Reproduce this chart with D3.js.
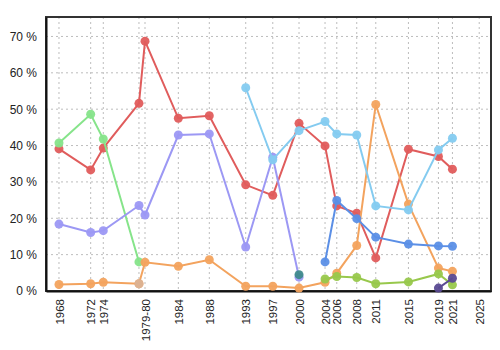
<!DOCTYPE html>
<html>
<head>
<meta charset="utf-8">
<script src="https://cdn.jsdelivr.net/npm/d3@7"></script>
<style>
  body { margin: 0; background: #fff; }
  text { font-family: "Liberation Sans", Arial, sans-serif; fill: #222; }
</style>
</head>
<body>
<div id="chart"></div>
<script>
// election dates as decimal years
const dates = [1968.0, 1972.3, 1974.01, 1978.85, 1979.67, 1984.19, 1988.39, 1993.33, 1997.0,
    2000.56, 2004.09, 2005.68, 2008.39, 2010.97, 2015.4, 2019.47, 2021.37];
const tickDates = dates.concat([2025.0]);
const tickLabels = ["1968", "1972", "1974", "", "1979-80", "1984", "1988", "1993", "1997",
    "2000", "2004", "2006", "2008", "2011", "2015", "2019", "2021", "2025"];
const yTicks = [0, 10, 20, 30, 40, 50, 60, 70];

// values per date index (null = no value)
const red =        [39.1, 33.3, 39.3, 51.6, 68.7, 47.5, 48.2, 29.2, 26.3, 46.1, 39.9, 23.4, 21.4, 9.1, 39.0, 37.0, 33.5];
const green =      [40.7, 48.6, 41.8, 8.0, null, null, null, null, null, null, null, null, null, null, null, null, null];
const purple =     [18.4, 16.1, 16.6, 23.5, 20.9, 42.9, 43.2, 12.1, 36.8, 3.8, null, null, null, null, null, null, null];
const orange =     [1.8, 2.0, 2.4, 2.0, 7.9, 6.8, 8.6, 1.3, 1.3, 0.8, 2.4, 4.9, 12.5, 51.3, 23.9, 6.3, 5.4];
const lightBlue =  [null, null, null, null, null, null, null, 55.9, 36.1, 44.1, 46.6, 43.2, 42.9, 23.4, 22.3, 38.8, 42.0];
const blue =       [null, null, null, null, null, null, null, null, null, null, 8.0, 24.9, 19.9, 14.8, 12.9, 12.4, 12.3];
const yellowGreen = [null, null, null, null, null, null, null, null, null, null, 3.3, 4.0, 3.7, 2.0, 2.5, 4.7, 1.7];
const darkPurple = [null, null, null, null, null, null, null, null, null, null, null, null, null, null, null, 0.8, 3.5];
const teal =       [null, null, null, null, null, null, null, null, null, 4.5, null, null, null, null, null, null, null];
const tan =        [null, null, null, 2.0, null, null, null, null, null, null, null, null, null, null, null, null, null];

const series = [
    {values: red, color: "#e05c5c"},
    {values: green, color: "#86e48a"},
    {values: purple, color: "#9c98f4"},
    {values: orange, color: "#f3a35e"},
    {values: lightBlue, color: "#84cbf0"},
    {values: blue, color: "#5b8fe6"},
    {values: yellowGreen, color: "#98c84c"},
    {values: darkPurple, color: "#5a4a92"},
    {values: teal, color: "#3f8a8c"},
    {values: tan, color: "#dbb294"}
];

const margin = {top: 17, right: 9, bottom: 59, left: 46};
const width = 500 - margin.left - margin.right;
const height = 350 - margin.top - margin.bottom;

const svg = d3.select("#chart").append("svg")
    .attr("width", 500)
    .attr("height", 350)
    .append("g")
    .attr("transform", `translate(${margin.left},${margin.top})`);

const x = d3.scaleLinear().domain([1966.24, 2026.6]).range([0, width]);
const y = d3.scaleLinear().domain([0, 75.35]).range([height, 0]);

// grid
svg.append("g")
    .selectAll("line.vgrid")
    .data(tickDates)
    .join("line")
    .attr("class", "vgrid")
    .attr("x1", d => x(d)).attr("x2", d => x(d))
    .attr("y1", 0).attr("y2", height)
    .attr("stroke", "#bdbdbd")
    .attr("stroke-dasharray", "2,3");

svg.append("g")
    .selectAll("line.hgrid")
    .data(yTicks.slice(1))
    .join("line")
    .attr("class", "hgrid")
    .attr("x1", 0).attr("x2", width)
    .attr("y1", d => y(d)).attr("y2", d => y(d))
    .attr("stroke", "#bdbdbd")
    .attr("stroke-dasharray", "2,3");

// frame
svg.append("rect")
    .attr("width", width).attr("height", height)
    .attr("fill", "none")
    .attr("stroke", "#333")
    .attr("stroke-width", 2);

// axes
const yAxis = svg.append("g")
    .call(d3.axisLeft(y).tickValues(yTicks).tickSize(0).tickPadding(9).tickFormat(d => d + " %"));
yAxis.select(".domain").attr("stroke", "#111").attr("stroke-width", 2);
yAxis.selectAll("text").style("font-size", "12px").attr("fill", "#222");

const xAxis = svg.append("g")
    .attr("transform", `translate(0,${height})`)
    .call(d3.axisBottom(x).tickValues(tickDates).tickSize(0).tickFormat((d, i) => tickLabels[i]));
xAxis.select(".domain").attr("stroke", "#111").attr("stroke-width", 2);
xAxis.selectAll("text")
    .style("font-size", "11.5px")
    .attr("fill", "#222")
    .attr("text-anchor", "end")
    .attr("transform", "rotate(-90)")
    .attr("x", -8)
    .attr("y", 0)
    .attr("dy", "0.35em");

// series
const line = d3.line()
    .defined(d => d.v !== null)
    .x(d => x(d.t))
    .y(d => y(d.v));

series.forEach(s => {
    const pts = s.values.map((v, i) => ({t: dates[i], v: v}));
    const g = svg.append("g");
    g.append("path")
        .datum(pts)
        .attr("d", line)
        .attr("fill", "none")
        .attr("stroke", s.color)
        .attr("stroke-width", 2);
    g.selectAll("circle")
        .data(pts.filter(d => d.v !== null))
        .join("circle")
        .attr("cx", d => x(d.t))
        .attr("cy", d => y(d.v))
        .attr("r", 4.5)
        .attr("fill", s.color)
        .attr("fill-opacity", 0.95);
});
</script>
</body>
</html>
